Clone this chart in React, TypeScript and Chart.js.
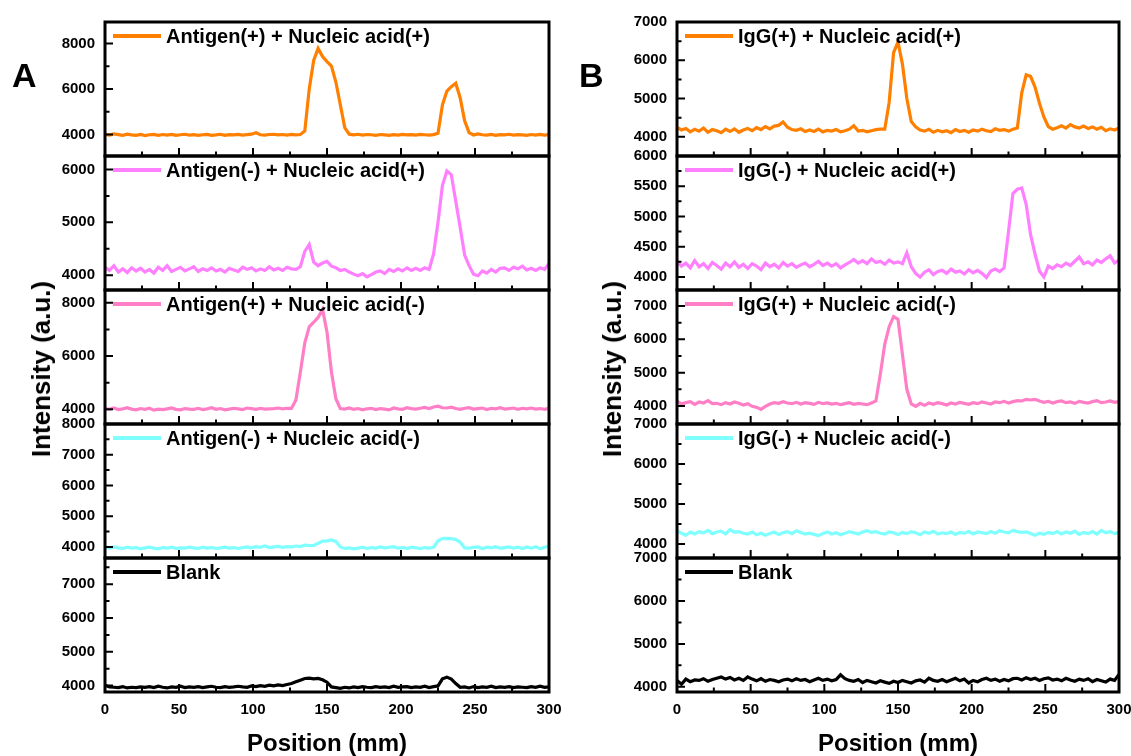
import React, { useEffect, useRef } from 'react';
import { Chart, registerables } from 'chart.js';

Chart.register(...registerables);

const FONT = '"Liberation Sans", Arial, sans-serif';

// ---------- shared x data ----------
const POSITIONS = [
  0, 3, 6, 9, 12, 15, 18, 21, 24, 27, 30, 33, 36, 39, 42, 45, 48, 51, 54, 57,
  60, 63, 66, 69, 72, 75, 78, 81, 84, 87, 90, 93, 96, 99, 102, 105, 108, 111, 114, 117,
  120, 123, 126, 129, 132, 135, 138, 141, 144, 147, 150, 153, 156, 159, 162, 165, 168, 171, 174, 177,
  180, 183, 186, 189, 192, 195, 198, 201, 204, 207, 210, 213, 216, 219, 222, 225, 228, 231, 234, 237,
  240, 243, 246, 249, 252, 255, 258, 261, 264, 267, 270, 273, 276, 279, 282, 285, 288, 291, 294, 297, 300,
];
const X_TICKS = [0, 50, 100, 150, 200, 250, 300];
const X_MINOR = [25, 75, 125, 175, 225, 275];

// ---------- panel A series ----------
const A_LABELS = [
  'Antigen(+) + Nucleic acid(+)',
  'Antigen(-) + Nucleic acid(+)',
  'Antigen(+) + Nucleic acid(-)',
  'Antigen(-) + Nucleic acid(-)',
  'Blank',
];
const A_AG_POS_NA_POS = [
  4000, 3970, 4020, 3990, 3960, 4010, 3980, 3960, 3995, 3950,
  3985, 4000, 3960, 3995, 3970, 4000, 3955, 3985, 4005, 3965,
  3990, 3955, 3985, 4000, 3960, 3980, 4005, 3960, 3990, 3975,
  4000, 3965, 3990, 4010, 4070, 3985, 3970, 3995, 4005, 3980,
  3995, 3970, 4000, 3980, 3995, 4150, 6000, 7250, 7780, 7420,
  7200, 7000, 6300, 5300, 4300, 4010, 3980, 4005, 3970, 3995,
  3985, 3960, 3995, 3975, 3955, 3990, 3965, 4000, 3975, 3990,
  3965, 4000, 3985, 3970, 3990, 4050, 5300, 5900, 6100, 6250,
  5600, 4600, 4080, 3975, 4020, 3985, 3965, 4000, 3960, 3990,
  3975, 4005, 3965, 3990, 3975, 3955, 3995, 3970, 4000, 3965, 3990,
];
const A_AG_NEG_NA_POS = [
  4150, 4090, 4180, 4060, 4120, 4050, 4140, 4080, 4130, 4060,
  4110, 4040, 4150, 4090, 4180, 4070, 4110, 4150, 4080, 4120,
  4160, 4070, 4120, 4090, 4140, 4080, 4110, 4060, 4130, 4100,
  4070, 4150, 4110, 4140, 4080, 4120, 4090, 4160, 4100, 4130,
  4090, 4150, 4120, 4110, 4160, 4450, 4580, 4250, 4180, 4230,
  4260, 4170, 4140, 4090, 4110, 4060, 4020, 3990, 4030, 3970,
  4010, 4060, 4080, 4030, 4110, 4070, 4120, 4080, 4140, 4090,
  4130, 4090, 4140, 4110, 4400, 5000, 5700, 5970, 5900, 5400,
  4900, 4380, 4180, 4020, 3990, 4080, 4040, 4110, 4060, 4130,
  4140, 4090, 4150, 4120, 4170, 4100, 4130, 4090, 4140, 4110, 4220,
];
const A_AG_POS_NA_NEG = [
  4030, 4000, 4050, 3990, 4020, 4060, 4010, 3980, 4030, 4000,
  4040, 3970, 4010, 3990, 4020, 4050, 4000, 3980, 4030, 4010,
  4000, 4040, 3990, 4020, 4060, 4000, 4030, 3980, 4010, 4040,
  4020, 3990, 4050, 4030, 4000, 4040, 4010, 4020, 4030, 4050,
  4020, 4040, 4040, 4350, 5400, 6500, 7100, 7270, 7450, 7750,
  6900, 5400, 4400, 4030, 4010, 4050, 4000, 4030, 3980, 4020,
  4040, 3990, 4030, 4010, 3980, 4050, 4020, 4000, 4060, 4030,
  4010, 4040, 4070, 4030, 4090, 4120, 4060, 4050, 4080, 4030,
  4000, 4040, 4060, 4010, 4030, 4050, 3990, 4040, 4020, 4060,
  4010, 4030, 4050, 4000, 4040, 4020, 4050, 4010, 4030, 4000, 4040,
];
const A_AG_NEG_NA_NEG = [
  3990, 3960, 4000, 3970, 3950, 3990, 3960, 3980, 3940, 3970,
  3990, 3960, 3940, 3980, 3960, 3990, 3950, 3970, 3960, 3990,
  3970, 3950, 3990, 3960, 3980, 3950, 3970, 3990, 3960, 3980,
  3950, 3980, 4000, 3970, 4010, 3990, 4030, 3980, 4000, 4020,
  3990, 4010, 4000, 4030, 4010, 4060, 4040, 4050, 4120, 4190,
  4200, 4230, 4180, 4000, 3950, 3970, 3940, 3960, 3990, 3950,
  3980, 3960, 4000, 3970, 3990, 4010, 3960, 3980, 3950, 3990,
  3970, 3950, 3980, 3960, 3990, 4200, 4270, 4280, 4270, 4240,
  4150, 3970, 3960, 3990, 4000, 3950, 3990, 3970, 4010, 3960,
  3980, 4000, 3960, 3990, 3950, 4000, 3960, 4010, 3940, 3990, 4030,
];
const A_BLANK = [
  4010, 3960, 3950, 3940, 3970, 3930, 3950, 3940, 3960, 3950,
  3970, 3940, 3980, 3950, 3930, 3960, 3950, 3980, 3940, 3960,
  3950, 3970, 3940, 3960, 3980, 3950, 3940, 3970, 3950, 3960,
  3980, 3960, 3950, 3990, 3970, 4000, 3980, 4010, 3990, 4020,
  4000, 4030, 4060, 4110, 4160, 4210, 4220, 4200, 4210, 4170,
  4100, 3960, 3940, 3920, 3950, 3930, 3960, 3940, 3970, 3950,
  3940, 3970, 3950, 3960, 3940, 3980, 3950, 3960, 3970, 3940,
  3960, 3950, 3980, 3940, 3970, 3990, 4200, 4250, 4190, 4060,
  3950, 3960, 3930, 3970, 3940, 3960, 3950, 3980, 3940, 3960,
  3950, 3970, 3940, 3960, 3950, 3940, 3970, 3950, 3980, 3950, 3960,
];
const A_MIN = [3050, 3720, 3450, 3640, 3810];
const A_MAX = [8940, 6255, 8480, 8000, 7775];
const A_MAJOR = [
  [4000, 6000, 8000],
  [4000, 5000, 6000],
  [4000, 6000, 8000],
  [4000, 5000, 6000, 7000, 8000],
  [4000, 5000, 6000, 7000],
];
const A_MINOR = [
  [5000, 7000],
  [4500, 5500],
  [5000, 7000],
  [4500, 5500, 6500, 7500],
  [4500, 5500, 6500, 7500],
];

// ---------- panel B series ----------
const B_LABELS = [
  'IgG(+) + Nucleic acid(+)',
  'IgG(-) + Nucleic acid(+)',
  'IgG(+) + Nucleic acid(-)',
  'IgG(-) + Nucleic acid(-)',
  'Blank',
];
const B_IGG_POS_NA_POS = [
  4250, 4180, 4220, 4130, 4200, 4150, 4230, 4120, 4190, 4160,
  4110, 4200, 4140, 4210, 4120, 4180, 4220, 4160, 4240, 4190,
  4270, 4210, 4280, 4300, 4390, 4250, 4190, 4170, 4210, 4140,
  4180, 4140, 4200, 4130, 4170, 4150, 4190, 4130, 4160, 4200,
  4290, 4150, 4170, 4130, 4160, 4190, 4200, 4200, 4900, 6200,
  6480, 5900, 5000, 4400, 4260, 4180, 4150, 4200, 4120, 4170,
  4130, 4160, 4110, 4190, 4140, 4170, 4120, 4180, 4150, 4200,
  4160, 4140, 4210, 4170, 4190, 4150, 4200, 4230, 5150, 5620,
  5580, 5300, 4880, 4520, 4270, 4200, 4240, 4290, 4230, 4320,
  4260, 4230, 4280, 4220, 4260, 4200, 4250, 4160, 4210, 4180, 4230,
];
const B_IGG_NEG_NA_POS = [
  4260, 4180, 4230, 4150, 4270, 4170, 4220, 4140, 4240, 4190,
  4130, 4230, 4170, 4250, 4160, 4210, 4140, 4220, 4180, 4120,
  4230, 4170, 4210, 4150, 4240, 4180, 4220, 4160, 4200, 4230,
  4170, 4210, 4260, 4190, 4230, 4180, 4220, 4150, 4200, 4240,
  4290, 4230, 4270, 4220, 4300, 4240, 4260, 4210, 4280, 4230,
  4250, 4220, 4400, 4170, 4060, 4000, 4080, 4120, 4040, 4090,
  4110, 4060, 4130, 4080, 4100, 4050, 4120, 4070, 4110, 4060,
  3990, 4100, 4130, 4090, 4150, 4750, 5380, 5450, 5470, 5200,
  4700, 4380, 4100, 4000, 4180, 4140, 4200, 4170, 4230, 4190,
  4260, 4330, 4220, 4250, 4200, 4280, 4240, 4300, 4350, 4230, 4280,
];
const B_IGG_POS_NA_NEG = [
  4150, 4060, 4100, 4130, 4050, 4120, 4090, 4160, 4070, 4080,
  4040, 4100, 4060, 4120, 4080, 4030, 4070, 3990, 3960, 3900,
  3990, 4060, 4100, 4080, 4130, 4090, 4070, 4110, 4060, 4100,
  4080, 4050, 4110, 4070, 4090, 4060, 4080, 4040, 4070, 4100,
  4050, 4080, 4060, 4040, 4090, 4150, 4950, 5850, 6380, 6680,
  6600, 5550, 4500, 4060, 3990, 4080, 4020, 4090, 4050, 4100,
  4070, 4030, 4090, 4060, 4110, 4080, 4050, 4100, 4070, 4120,
  4090, 4060, 4120, 4100, 4140, 4090, 4130, 4160, 4150, 4200,
  4180, 4200, 4150, 4110, 4140, 4090, 4130, 4150, 4100, 4120,
  4080, 4140, 4110, 4090, 4130, 4160, 4100, 4120, 4150, 4110, 4130,
];
const B_IGG_NEG_NA_NEG = [
  4330, 4270, 4220, 4300, 4250, 4310, 4280, 4340, 4260, 4300,
  4320, 4250, 4360, 4290, 4310, 4270, 4250, 4300, 4230, 4270,
  4220, 4260, 4300, 4240, 4280, 4310, 4260, 4330, 4290, 4250,
  4270, 4240, 4210, 4260, 4300, 4250, 4280, 4230, 4270, 4310,
  4280, 4250, 4300, 4330, 4290, 4310, 4270, 4250, 4300, 4280,
  4240, 4290, 4260, 4310, 4280, 4230, 4300, 4270, 4320, 4250,
  4280, 4260, 4300, 4240, 4290, 4270, 4310, 4250, 4300, 4280,
  4260, 4310, 4270, 4330, 4300, 4280, 4340, 4310, 4290, 4300,
  4260, 4220, 4270, 4240, 4290, 4260, 4310, 4250, 4300, 4270,
  4320, 4240, 4290, 4260, 4310, 4250, 4340, 4280, 4310, 4260, 4290,
];
const B_BLANK = [
  4150, 4060, 4180, 4120, 4160, 4150, 4190, 4130, 4170, 4200,
  4230, 4180, 4220, 4160, 4200, 4150, 4230, 4180, 4140, 4190,
  4130, 4170, 4150, 4120, 4160, 4180, 4140, 4190, 4150, 4170,
  4120, 4160, 4200, 4150, 4180, 4140, 4170, 4280, 4190, 4150,
  4130, 4170, 4100, 4150, 4120, 4090, 4140, 4110, 4080, 4130,
  4100, 4150, 4120, 4090, 4140, 4160, 4110, 4200, 4150, 4130,
  4170, 4120, 4160, 4200, 4140, 4180, 4090, 4150, 4120, 4170,
  4200, 4150, 4180, 4130, 4170, 4140, 4190, 4200, 4160, 4210,
  4170, 4200, 4150, 4190, 4210, 4160, 4180, 4140, 4200, 4160,
  4130, 4180, 4150, 4190, 4120, 4170, 4140, 4110, 4180, 4150, 4290,
];
const B_MIN = [3500, 3785, 3460, 3650, 3880];
const B_MAX = [7000, 6000, 7480, 7000, 7000];
const B_MAJOR = [
  [4000, 5000, 6000, 7000],
  [4000, 4500, 5000, 5500, 6000],
  [4000, 5000, 6000, 7000],
  [4000, 5000, 6000, 7000],
  [4000, 5000, 6000, 7000],
];
const B_MINOR = [
  [4500, 5500, 6500],
  [4250, 4750, 5250, 5750],
  [4500, 5500, 6500],
  [4500, 5500, 6500],
  [4500, 5500, 6500],
];

const COLORS = ['#FF8000', '#FF80FF', '#FF7FC6', '#80FFFF', '#000000'];
const AXIS_IDS = ['y1', 'y2', 'y3', 'y4', 'y5'];

type PanelDef = {
  stack: string;
  series: number[][];
  labels: string[];
  mins: number[];
  maxs: number[];
  majors: number[][];
  minors: number[][];
  canvasWidth: number;
  axisWidth: number;
  padRight: number;
};

const PANEL_A: PanelDef = {
  stack: 'A',
  series: [A_AG_POS_NA_POS, A_AG_NEG_NA_POS, A_AG_POS_NA_NEG, A_AG_NEG_NA_NEG, A_BLANK],
  labels: A_LABELS,
  mins: A_MIN,
  maxs: A_MAX,
  majors: A_MAJOR,
  minors: A_MINOR,
  canvasWidth: 571,
  axisWidth: 105,
  padRight: 22,
};

const PANEL_B: PanelDef = {
  stack: 'B',
  series: [B_IGG_POS_NA_POS, B_IGG_NEG_NA_POS, B_IGG_POS_NA_NEG, B_IGG_NEG_NA_NEG, B_BLANK],
  labels: B_LABELS,
  mins: B_MIN,
  maxs: B_MAX,
  majors: B_MAJOR,
  minors: B_MINOR,
  canvasWidth: 576,
  axisWidth: 112,
  padRight: 22,
};

function makeFramePlugin(p: PanelDef) {
  return {
    id: 'frames' + p.stack,
    afterDatasetsDraw(chart: any) {
      const { ctx, chartArea } = chart;
      const xs = chart.scales.x;
      ctx.save();
      AXIS_IDS.forEach((id, k) => {
        const ys = chart.scales[id];
        const top = ys.top;
        const bottom = ys.bottom;
        const left = chartArea.left;
        const right = chartArea.right;
        ctx.strokeStyle = '#000';
        ctx.lineWidth = 2;
        ctx.lineCap = 'butt';
        ctx.beginPath();
        p.majors[k].forEach((v) => {
          const py = ys.getPixelForValue(v);
          if (py >= top - 1 && py <= bottom + 1) {
            ctx.moveTo(left, py);
            ctx.lineTo(left + 8, py);
          }
        });
        p.minors[k].forEach((v) => {
          const py = ys.getPixelForValue(v);
          if (py >= top - 1 && py <= bottom + 1) {
            ctx.moveTo(left, py);
            ctx.lineTo(left + 4.5, py);
          }
        });
        X_TICKS.forEach((v) => {
          const px = xs.getPixelForValue(v);
          ctx.moveTo(px, bottom);
          ctx.lineTo(px, bottom - 8);
        });
        X_MINOR.forEach((v) => {
          const px = xs.getPixelForValue(v);
          ctx.moveTo(px, bottom);
          ctx.lineTo(px, bottom - 4.5);
        });
        ctx.stroke();
        ctx.lineWidth = 3;
        ctx.strokeRect(left, top, right - left, bottom - top);

        // legend inside each sub-plot
        const ly = top + 14;
        ctx.strokeStyle = COLORS[k];
        ctx.lineWidth = 4;
        ctx.beginPath();
        ctx.moveTo(left + 8, ly);
        ctx.lineTo(left + 56, ly);
        ctx.stroke();
        ctx.fillStyle = '#000';
        ctx.font = 'bold 20px ' + FONT;
        ctx.textAlign = 'left';
        ctx.textBaseline = 'middle';
        ctx.fillText(p.labels[k], left + 61, ly + 1);
      });
      ctx.restore();
    },
  };
}

function Panel({ def, left }: { def: PanelDef; left: number }) {
  const ref = useRef<HTMLCanvasElement | null>(null);
  useEffect(() => {
    if (!ref.current) return;
    const tickFont = { family: FONT, size: 15, weight: 'bold' as const };
    const scales: any = {
      x: {
        type: 'linear',
        position: 'bottom',
        min: 0,
        max: 300,
        afterBuildTicks: (s: any) => {
          s.ticks = X_TICKS.map((v) => ({ value: v }));
        },
        afterFit: (s: any) => {
          s.height = 64;
        },
        grid: { display: false, drawTicks: false },
        border: { display: false },
        ticks: {
          font: tickFont,
          color: '#000',
          padding: 9,
          maxRotation: 0,
          autoSkip: false,
          callback: (v: any) => String(v),
        },
        title: {
          display: true,
          text: 'Position (mm)',
          color: '#000',
          font: { family: FONT, size: 24, weight: 'bold', lineHeight: 1 },
          padding: { top: 0, bottom: 0 },
        },
      },
    };
    // stacked axes are placed bottom-up, so declare the lowest sub-plot first
    for (let k = AXIS_IDS.length - 1; k >= 0; k--) {
      const id = AXIS_IDS[k];
      scales[id] = {
        type: 'linear',
        position: 'left',
        stack: def.stack,
        stackWeight: 1,
        min: def.mins[k],
        max: def.maxs[k],
        afterBuildTicks: (s: any) => {
          s.ticks = def.majors[k].map((v) => ({ value: v }));
        },
        afterFit: (s: any) => {
          s.width = def.axisWidth;
        },
        grid: { display: false, drawTicks: false },
        border: { display: false },
        ticks: {
          font: tickFont,
          color: '#000',
          padding: 10,
          autoSkip: false,
          callback: (v: any) => String(v),
        },
      };
    }
    const chart = new Chart(ref.current, {
      type: 'line',
      data: {
        datasets: def.series.map((s, k) => ({
          label: def.labels[k],
          data: POSITIONS.map((x, i) => ({ x, y: s[i] })),
          borderColor: COLORS[k],
          backgroundColor: COLORS[k],
          borderWidth: 3.2,
          pointRadius: 0,
          tension: 0,
          fill: false,
          yAxisID: AXIS_IDS[k],
        })),
      },
      options: {
        animation: false,
        responsive: false,
        devicePixelRatio: 1,
        layout: { padding: { left: 0, right: def.padRight, top: 22, bottom: 0 }, autoPadding: false },
        plugins: { legend: { display: false }, tooltip: { enabled: false } },
        scales,
      } as any,
      plugins: [makeFramePlugin(def)],
    });
    return () => chart.destroy();
  }, [def]);
  return (
    <div style={{ position: 'absolute', left, top: 0 }}>
      <canvas ref={ref} width={def.canvasWidth} height={756} style={{ display: 'block' }} />
    </div>
  );
}

const letterStyle: React.CSSProperties = {
  position: 'absolute',
  fontFamily: FONT,
  fontWeight: 'bold',
  fontSize: 34,
  lineHeight: 1,
  color: '#000',
};

const yTitleStyle: React.CSSProperties = {
  position: 'absolute',
  top: 369,
  fontFamily: FONT,
  fontWeight: 'bold',
  fontSize: 26,
  lineHeight: 1,
  whiteSpace: 'nowrap',
  color: '#000',
  transform: 'translate(-50%, -50%) rotate(-90deg)',
};

export default function App() {
  return (
    <div
      style={{
        position: 'fixed',
        left: 0,
        top: 0,
        width: 1131,
        height: 756,
        background: '#fff',
        overflow: 'hidden',
      }}
    >
      <Panel def={PANEL_A} left={0} />
      <Panel def={PANEL_B} left={565} />
      <div style={{ ...letterStyle, left: 12, top: 58 }}>A</div>
      <div style={{ ...letterStyle, left: 579, top: 58 }}>B</div>
      <div style={{ ...yTitleStyle, left: 41 }}>Intensity (a.u.)</div>
      <div style={{ ...yTitleStyle, left: 612 }}>Intensity (a.u.)</div>
    </div>
  );
}
